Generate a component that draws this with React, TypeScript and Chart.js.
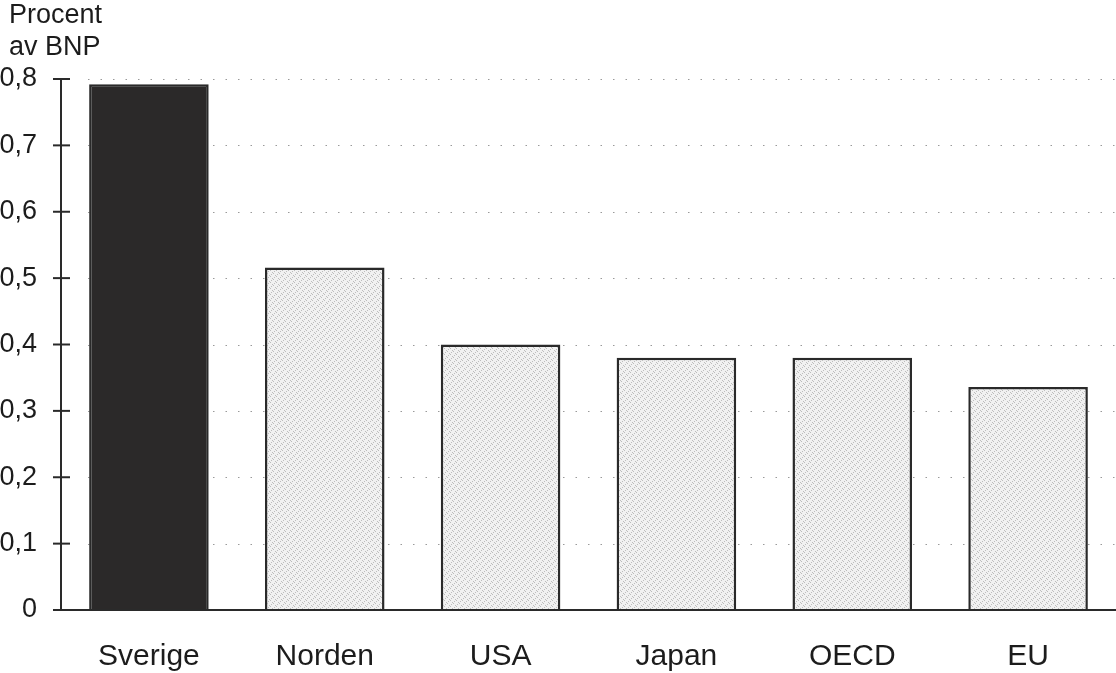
import React, { useEffect, useRef } from "react";
import { Chart, registerables } from "chart.js";

Chart.register(...registerables);

const categories = ["Sverige", "Norden", "USA", "Japan", "OECD", "EU"];
const values = [0.792, 0.516, 0.4, 0.38, 0.38, 0.336];
const yTicks = [0, 0.1, 0.2, 0.3, 0.4, 0.5, 0.6, 0.7, 0.8];
const titleLines = ["Procent", "av BNP"];

const FONT = "'Liberation Sans', Arial, Helvetica, sans-serif";
const TEXT = "#1c1c1c";

function makePattern(): CanvasPattern | string {
  const c = document.createElement("canvas");
  c.width = 6;
  c.height = 6;
  const g = c.getContext("2d");
  if (!g) return "#e6e6e6";
  g.fillStyle = "#f1f1f1";
  g.fillRect(0, 0, 6, 6);
  g.fillStyle = "#bdbdbd";
  const dots = [
    [0, 0], [3, 3], [1, 4], [4, 1], [2, 2], [5, 5],
  ];
  dots.forEach(([x, y]) => g.fillRect(x, y, 1, 1));
  const p = g.createPattern(c, "repeat");
  return p || "#e6e6e6";
}

const decorPlugin = {
  id: "decor",
  beforeDatasetsDraw(chart: any) {
    const { ctx, chartArea } = chart;
    const y = chart.scales.y;
    ctx.save();
    ctx.strokeStyle = "#9a9a9a";
    ctx.lineWidth = 1;
    ctx.setLineDash([1.5, 11]);
    yTicks.forEach((v) => {
      if (v === 0) return;
      const py = Math.round(y.getPixelForValue(v)) + 0.5;
      ctx.beginPath();
      ctx.moveTo(chartArea.left + 27, py);
      ctx.lineTo(chartArea.right, py);
      ctx.stroke();
    });
    ctx.restore();
  },
  afterDatasetsDraw(chart: any) {
    const { ctx, chartArea } = chart;
    const y = chart.scales.y;
    ctx.save();
    ctx.strokeStyle = "#2a2a2a";
    ctx.lineWidth = 2;
    const top = y.getPixelForValue(yTicks[yTicks.length - 1]);
    const bottom = y.getPixelForValue(0);
    ctx.beginPath();
    ctx.moveTo(chartArea.left, top);
    ctx.lineTo(chartArea.left, bottom);
    ctx.stroke();
    yTicks.forEach((v) => {
      const py = y.getPixelForValue(v);
      ctx.beginPath();
      ctx.moveTo(chartArea.left - 8, py);
      ctx.lineTo(chartArea.left + (v === 0 ? 0 : 9), py);
      ctx.stroke();
    });
    ctx.beginPath();
    ctx.moveTo(chartArea.left - 8, bottom);
    ctx.lineTo(chartArea.right, bottom);
    ctx.stroke();
    ctx.fillStyle = TEXT;
    ctx.font = `27px ${FONT}`;
    ctx.textAlign = "left";
    ctx.textBaseline = "alphabetic";
    ctx.fillText(titleLines[0], 9, 23);
    ctx.fillText(titleLines[1], 9, 55);
    ctx.restore();
  },
};

export default function App() {
  const ref = useRef<HTMLCanvasElement>(null);
  useEffect(() => {
    document.body.style.margin = "0";
    if (!ref.current) return;
    const pattern = makePattern();
    const chart = new Chart(ref.current, {
      type: "bar",
      data: {
        labels: categories,
        datasets: [
          {
            data: values,
            backgroundColor: values.map((_, i) => (i === 0 ? "#2b2929" : pattern)) as any,
            borderColor: "#2a2a2a",
            borderWidth: 2.5,
            barPercentage: 0.68,
            categoryPercentage: 1,
          },
        ],
      },
      options: {
        responsive: false,
        animation: false,
        devicePixelRatio: 1,
        layout: { padding: { top: 79, right: 0, bottom: 0, left: 0 } },
        plugins: { legend: { display: false }, tooltip: { enabled: false }, title: { display: false } },
        scales: {
          x: {
            grid: { display: false },
            border: { display: false },
            ticks: { color: TEXT, font: { family: FONT, size: 30 }, padding: 21 },
            afterFit: (s: any) => {
              s.height = 63;
            },
          },
          y: {
            min: 0,
            max: 0.8,
            grid: { display: false },
            border: { display: false },
            ticks: {
              stepSize: 0.1,
              color: TEXT,
              padding: 16,
              font: { family: FONT, size: 27 },
              callback: (v: any) => (Number(v) === 0 ? "0" : Number(v).toFixed(1).replace(".", ",")),
            },
            afterFit: (s: any) => {
              s.width = 61;
            },
          },
        },
      },
      plugins: [decorPlugin],
    });
    return () => chart.destroy();
  }, []);
  return (
    <div style={{ position: "absolute", left: 0, top: 0, width: 1116, height: 673, background: "#fff" }}>
      <canvas ref={ref} width={1116} height={673} style={{ width: 1116, height: 673, display: "block" }} />
    </div>
  );
}
